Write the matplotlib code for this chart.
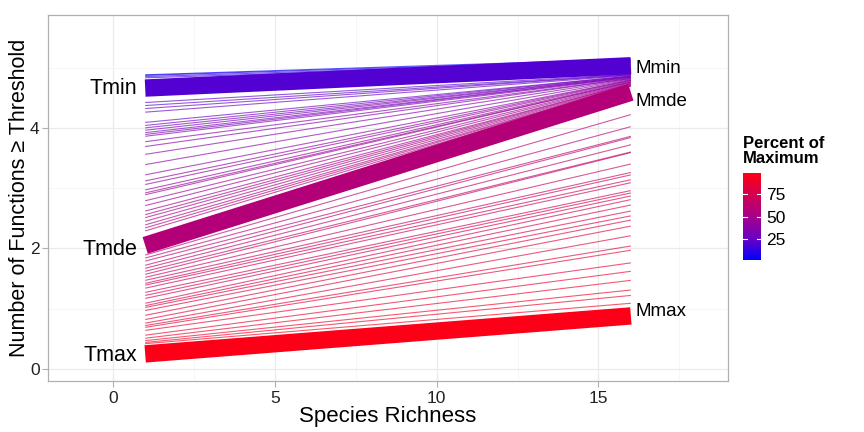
# 多功能阈值图 - species richness vs number of functions >= threshold

import numpy as np
import matplotlib
matplotlib.use("Agg")
import matplotlib.pyplot as plt
from matplotlib.colors import LinearSegmentedColormap, Normalize
from matplotlib.cm import ScalarMappable

plt.rcParams['font.family'] = ['Liberation Sans', 'DejaVu Sans']

# 数据
x_lo, x_hi = 1, 16

# 细线: 阈值百分比, richness=1 时的值, richness=16 时的值
pct = [3, 7, 11, 16,
       22, 23, 24, 25, 27, 28, 29, 30, 31, 32, 34, 35, 36, 37, 38, 40,
       41, 42, 43, 44, 46, 47, 48, 49, 50, 52, 53, 54, 55, 56,
       60, 61, 62, 63, 64, 66, 67, 68, 69, 70, 71, 72, 73, 74, 75, 77,
       78, 79, 80, 81, 82, 83, 84, 85, 87, 88, 89, 90, 91, 93]
n_at_lo = [4.88, 4.87, 4.85, 4.83,
           4.42, 4.37, 4.32, 4.26, 4.09, 4.04, 4.00, 3.96, 3.92, 3.89, 3.86, 3.77, 3.69, 3.56, 3.39, 3.22,
           3.12, 3.06, 2.97, 2.92, 2.89, 2.79, 2.71, 2.62, 2.56, 2.51, 2.45, 2.39, 2.34, 2.29,
           1.89, 1.84, 1.79, 1.72, 1.67, 1.62, 1.57, 1.52, 1.47, 1.42, 1.39, 1.34, 1.27, 1.22, 1.17, 1.09,
           1.05, 1.02, 0.97, 0.89, 0.82, 0.76, 0.72, 0.69, 0.64, 0.56, 0.51, 0.47, 0.44, 0.42]
n_at_hi = [5.14, 5.12, 5.10, 5.08,
           4.89, 4.88, 4.88, 4.87, 4.86, 4.86, 4.85, 4.85, 4.84, 4.84, 4.83, 4.82, 4.82, 4.81, 4.80, 4.79,
           4.79, 4.78, 4.77, 4.76, 4.76, 4.75, 4.74, 4.73, 4.73, 4.72, 4.71, 4.70, 4.70, 4.69,
           4.22, 4.02, 3.86, 3.84, 3.72, 3.60, 3.59, 3.40, 3.26, 3.22, 3.14, 3.09, 2.96, 2.92, 2.87, 2.81,
           2.72, 2.62, 2.54, 2.47, 2.37, 2.21, 2.04, 1.97, 1.76, 1.62, 1.47, 1.31, 1.22, 1.09]

# 粗线: Tmin / Tmde / Tmax
thick_pct = [20, 58, 97]
thick_lo = [4.66, 2.05, 0.25]
thick_hi = [5.03, 4.59, 0.88]
left_labels = ["Tmin", "Tmde", "Tmax"]
left_label_y = [4.65, 1.99, 0.22]
right_labels = ["Mmin", "Mmde", "Mmax"]
right_label_y = [4.98, 4.43, 0.95]

cmap = LinearSegmentedColormap.from_list(
    "bluered", [(0.0, "#0000FF"), (0.25, "#6C00C4"), (0.5, "#A5008A"),
                (0.75, "#D20052"), (1.0, "#FF0012")])
norm = Normalize(1, 99)

fig = plt.figure(figsize=(8.64, 4.32), dpi=100)
ax = fig.add_axes([0.0556, 0.118, 0.787, 0.847])

for p, a, b in zip(pct, n_at_lo, n_at_hi):
    ax.plot([x_lo, x_hi], [a, b], color=cmap(norm(p)), lw=0.8, alpha=0.65,
            solid_capstyle='butt', zorder=2)

for p, a, b in zip(thick_pct, thick_lo, thick_hi):
    ax.plot([x_lo, x_hi], [a, b], color=cmap(norm(p)), lw=12.5,
            solid_capstyle='butt', zorder=3)

for lab, yy in zip(left_labels, left_label_y):
    ax.text(0.75, yy, lab, ha='right', va='center', fontsize=15.5, zorder=4)
for lab, yy in zip(right_labels, right_label_y):
    ax.text(16.15, yy, lab, ha='left', va='center', fontsize=13.5, zorder=4)

# theme_bw 风格
ax.set_xlim(-2, 19)
ax.set_ylim(-0.2, 5.87)
ax.set_xticks([0, 5, 10, 15])
ax.set_yticks([0, 2, 4])
ax.set_xticks([2.5, 7.5, 12.5, 17.5], minor=True)
ax.set_yticks([1, 3, 5], minor=True)
ax.grid(which='major', color='#EBEBEB', lw=0.9, zorder=0)
ax.grid(which='minor', color='#F5F5F5', lw=0.6, zorder=0)
ax.set_axisbelow(True)
for s in ax.spines.values():
    s.set_color('#B0B0B0')
    s.set_linewidth(0.9)
ax.tick_params(which='major', length=4, color='#B0B0B0', labelsize=12.5,
               labelcolor='#222222')
ax.tick_params(axis='y', pad=2)
ax.tick_params(which='minor', length=0)
ax.set_xlabel("Species Richness", fontsize=16, labelpad=0)
ax.set_ylabel("Number of Functions \u2265 Threshold", fontsize=15.5, labelpad=0)

# 颜色图例
cax = fig.add_axes([0.86, 0.398, 0.0208, 0.201])
sm = ScalarMappable(norm=norm, cmap=cmap)
cb = fig.colorbar(sm, cax=cax, ticks=[25, 50, 75])
cb.outline.set_visible(False)
cax.tick_params(length=0, labelsize=12.5, pad=4)
for t in [25, 50, 75]:
    cax.plot([0, 0.2], [t, t], color='white', lw=0.8, transform=cax.get_yaxis_transform())
    cax.plot([0.8, 1.0], [t, t], color='white', lw=0.8, transform=cax.get_yaxis_transform())
fig.text(0.86, 1 - 136 / 432, "Percent of\nMaximum", fontsize=12, fontweight='bold',
         ha='left', va='top', linespacing=1.0)

fig.savefig("out.png", dpi=100)
